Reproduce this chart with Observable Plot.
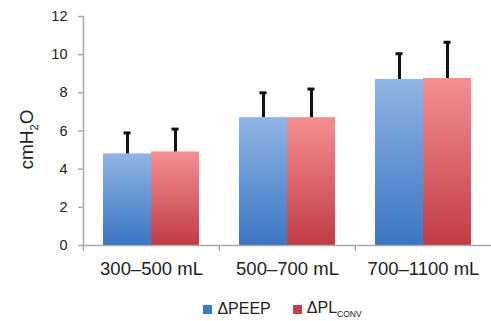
<!DOCTYPE html>
<html><head><meta charset="utf-8">
<script src="https://cdn.jsdelivr.net/npm/d3@7"></script>
<script src="https://cdn.jsdelivr.net/npm/@observablehq/plot@0.6"></script>
<style>
body{margin:0;background:#fff;font-family:"Liberation Sans",Arial,sans-serif;color:#222;}
#legend{display:flex;justify-content:center;align-items:center;padding-left:74px;margin-top:9px;font-size:16px;height:20px;}
.item{display:flex;align-items:center;margin:0 11px;}
.sw{width:9px;height:9px;margin-right:5px;}
sub{font-size:8.5px;vertical-align:-4px;}
</style></head><body><div id="chart"></div>
<div id="legend">
  <div class="item"><div class="sw" style="background:#3f78c5"></div><span>ΔPEEP</span></div>
  <div class="item"><div class="sw" style="background:#c0414a"></div><span>ΔPL<sub>CONV</sub></span></div>
</div>
<script>
const groups = ["300–500 mL", "500–700 mL", "700–1100 mL"];
const seriesKeys = ["PEEP", "PLCONV"];
const peepMean = [4.8, 6.7, 8.7];
const peepErr = [1.1, 1.3, 1.35];
const plMean = [4.9, 6.7, 8.75];
const plErr = [1.2, 1.5, 1.9];
const yTicks = [0, 2, 4, 6, 8, 10, 12];

const data = [];
groups.forEach((g, i) => {
  data.push({group: g, series: "PEEP", value: peepMean[i], err: peepErr[i]});
  data.push({group: g, series: "PLCONV", value: plMean[i], err: plErr[i]});
});

const W = 491, H = 290, ML = 82, MR = 0, MT = 16, MB = 45;
const bw = (W - ML - MR) / groups.length;
const gray = "#a9a9a9";

const chart = Plot.plot({
  width: W, height: H,
  marginLeft: ML, marginRight: MR, marginTop: MT, marginBottom: MB,
  style: {fontFamily: '"Liberation Sans", Arial, sans-serif', color: "#222", background: "#fff"},
  fx: {domain: groups, padding: 0, label: null, axis: null},
  x: {domain: seriesKeys, paddingInner: 0, paddingOuter: 0.39, axis: null},
  y: {domain: [0, 12], label: null, axis: null},
  color: {domain: seriesKeys, range: ["url(#gBlue)", "url(#gRed)"]},
  marks: [
    Plot.barY(data, {fx: "group", x: "series", y: "value", fill: "series"}),
    Plot.ruleX(data, {fx: "group", x: "series", y1: "value", y2: d => d.value + d.err, stroke: "#111", strokeWidth: 3}),
    Plot.tickY(data, {fx: "group", x: "series", y: d => d.value + d.err, stroke: "#111", strokeWidth: 3, insetLeft: 20.5, insetRight: 20.5}),
    Plot.ruleY([0], {stroke: gray, strokeWidth: 1.5}),
    Plot.frame({anchor: "left", stroke: gray, strokeWidth: 1.5, facetAnchor: "left"}),
    Plot.axisY({ticks: yTicks, tickSize: 5, tickPadding: 11, stroke: gray, strokeWidth: 1.5, fill: "#222", fontSize: 14.5, label: null, tickFormat: d => d}),
    Plot.axisFx({anchor: "bottom", tickSize: 0, tickPadding: 16, fontSize: 18.5, fill: "#222", label: null}),
    Plot.axisFx({anchor: "bottom", tickSize: 6, stroke: gray, strokeWidth: 1.5, tickFormat: () => "", label: null, dx: -bw / 2})
  ]
});

const svg = d3.select(chart);
const defs = svg.insert("defs", ":first-child");
function grad(id, top, bottom) {
  const lg = defs.append("linearGradient").attr("id", id).attr("x1", 0).attr("y1", 0).attr("x2", 0).attr("y2", 1);
  lg.append("stop").attr("offset", "0%").attr("stop-color", top);
  lg.append("stop").attr("offset", "100%").attr("stop-color", bottom);
}
grad("gBlue", "#8fb5e3", "#3b75c3");
grad("gRed", "#f49092", "#c03c45");

const ys = chart.scale("y");
const yMid = (ys.range[0] + ys.range[1]) / 2;
const lbl = svg.append("text")
  .attr("transform", `translate(33,${yMid + 9}) rotate(-90)`)
  .attr("text-anchor", "middle")
  .attr("font-size", 19).attr("fill", "#222")
  .attr("font-family", '"Liberation Sans", Arial, sans-serif');
lbl.append("tspan").text("cmH");
lbl.append("tspan").attr("font-size", 11).attr("dy", 5).text("2");
lbl.append("tspan").attr("dy", -5).text("O");

document.getElementById("chart").appendChild(chart);
</script>
</body></html>
